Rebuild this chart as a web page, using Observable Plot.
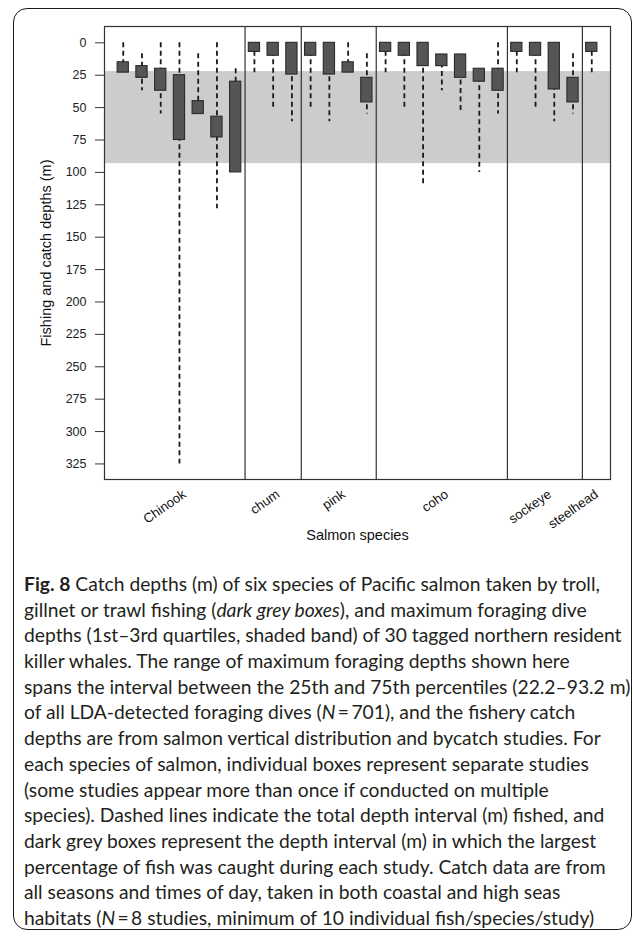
<!DOCTYPE html>
<html><head><meta charset="utf-8">
<script src="https://cdn.jsdelivr.net/npm/d3@7"></script>
<script src="https://cdn.jsdelivr.net/npm/@observablehq/plot@0.6"></script>
<style>
body{margin:0;background:#fff;width:634px;height:936px;overflow:hidden;position:relative;}
#border{position:absolute;left:13px;top:8px;width:617px;height:920px;border:1.5px solid #1a1a1a;border-radius:14px;}
#chart{position:absolute;left:0;top:0;}
#caption{position:absolute;left:24px;top:571px;font-family:Lato,"Open Sans",sans-serif;color:#231f20;white-space:nowrap;}
#caption div{line-height:25.7px;height:25.7px;}
</style></head><body>
<div id="border"></div>
<div id="chart"></div>
<div id="caption"></div>
<script>
// ---- data (one entry per study, in plotting order) ----
const species = ["Chinook","Chinook","Chinook","Chinook","Chinook","Chinook","Chinook",
  "chum","chum","chum","pink","pink","pink","pink",
  "coho","coho","coho","coho","coho","coho","coho",
  "sockeye","sockeye","sockeye","sockeye","steelhead"];
const fishedMin   = [0, 8.5, 0, 0, 8.5, 0, 20,   0, 0, 0,   0, 0, 0, 8.5,   0, 0, 0, 9, 9, 20, 0,   0, 0, 0, 8.5,   0];
const fishedMax   = [23, 37, 55, 325, 55, 128, 100,   23, 50, 61,   50, 61, 23, 55,   23, 50, 110, 37, 55, 100, 55,   23, 50, 61, 55,   23];
const catchTop    = [15, 18, 20, 25, 45, 57, 30,   0, 0, 0,   0, 0, 15, 27,   0, 0, 0, 9, 9, 20, 20,   0, 0, 0, 27,   0];
const catchBottom = [23, 27, 37, 75, 55, 73, 100,   7, 10, 24.5,   10, 24.5, 23, 46,   7, 10, 18, 18, 27, 30, 37,   7, 10, 36, 46,   7];
const speciesOrder = ["Chinook","chum","pink","coho","sockeye","steelhead"];
const foragingBand = [22.2, 93.2];
const yTicks = [0, 25, 50, 75, 100, 125, 150, 175, 200, 225, 250, 275, 300, 325];
const xTitle = "Salmon species";
const yTitle = "Fishing and catch depths (m)";
const captionLines = [
 "<b>Fig. 8</b> Catch depths (m) of six species of Pacific salmon taken by troll,",
 "gillnet or trawl fishing (<i>dark grey boxes</i>), and maximum foraging dive",
 "depths (1st\u20133rd quartiles, shaded band) of 30 tagged northern resident",
 "killer whales. The range of maximum foraging depths shown here",
 "spans the interval between the 25th and 75th percentiles (22.2\u201393.2 m)",
 "of all LDA-detected foraging dives (<i>N</i>\u2009=\u2009701), and the fishery catch",
 "depths are from salmon vertical distribution and bycatch studies. For",
 "each species of salmon, individual boxes represent separate studies",
 "(some studies appear more than once if conducted on multiple",
 "species). Dashed lines indicate the total depth interval (m) fished, and",
 "dark grey boxes represent the depth interval (m) in which the largest",
 "percentage of fish was caught during each study. Catch data are from",
 "all seasons and times of day, taken in both coastal and high seas",
 "habitats (<i>N</i>\u2009=\u20098 studies, minimum of 10 individual fish/species/study)"
];

// ---- derived tables ----
const studies = species.map((s, i) => ({
  species: s, pos: i + 1,
  fishedMin: fishedMin[i], fishedMax: fishedMax[i],
  catchTop: catchTop[i], catchBottom: catchBottom[i]
}));
const groups = speciesOrder.map(s => {
  const p = studies.filter(d => d.species === s).map(d => d.pos);
  return {species: s, center: d3.mean(p), end: d3.max(p)};
});
const separators = groups.slice(0, -1).map(g => g.end + 0.5);

const chart = Plot.plot({
  width: 634, height: 560,
  marginLeft: 104, marginRight: 24, marginTop: 26, marginBottom: 81,
  style: {fontFamily: "'Liberation Sans', Arial, sans-serif", color: "#222", background: "transparent"},
  x: {domain: [0, studies.length + 1], axis: null},
  y: {domain: [-12.6, 337], reverse: true},
  marks: [
    Plot.rect([foragingBand], {y1: d => d[0], y2: d => d[1], fill: "#cccccc"}),
    Plot.ruleX(separators, {stroke: "#333", strokeWidth: 1.2}),
    Plot.ruleX(studies, {x: "pos", y1: "fishedMin", y2: "fishedMax", stroke: "#1a1a1a", strokeWidth: 1.8, strokeDasharray: "5,3.5"}),
    Plot.rect(studies, {x1: d => d.pos - 0.3, x2: d => d.pos + 0.3, y1: "catchTop", y2: "catchBottom", fill: "#555555", stroke: "#2a2a2a", strokeWidth: 1.1}),
    Plot.frame({stroke: "#333", strokeWidth: 1.2}),
    Plot.axisY(yTicks, {tickSize: 9, tickPadding: 9, fontSize: 12.5, label: null, stroke: "#333"}),
    Plot.text(groups, {x: "center", text: "species", frameAnchor: "bottom", rotate: -35, textAnchor: "end", lineAnchor: "top", dy: 9, dx: 2, fontSize: 13.2, fill: "#111"}),
    Plot.text([xTitle], {frameAnchor: "bottom", textAnchor: "middle", lineAnchor: "middle", dy: 56, fontSize: 14.5, fill: "#111"}),
    Plot.text([yTitle], {frameAnchor: "left", textAnchor: "middle", lineAnchor: "middle", dx: -58, rotate: -90, fontSize: 14.5, fill: "#111"})
  ]
});
document.getElementById("chart").appendChild(chart);

// caption
const cap = document.getElementById("caption");
cap.innerHTML = captionLines.map(l => `<div><span>${l}</span></div>`).join("");
cap.style.fontSize = "18px";
const w = cap.querySelectorAll("span")[2].getBoundingClientRect().width;
cap.style.fontSize = (18 * 598 / w).toFixed(2) + "px";
</script>
</body></html>
